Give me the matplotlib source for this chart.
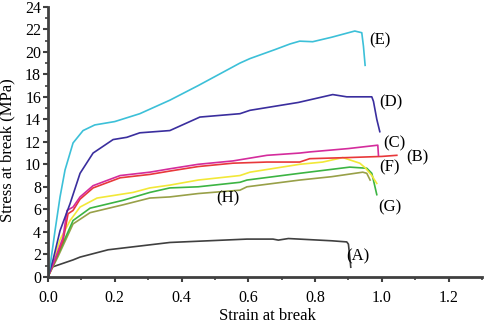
import matplotlib
matplotlib.use("Agg")
import matplotlib.pyplot as plt
from matplotlib.ticker import MultipleLocator, FormatStrFormatter

plt.rcParams['font.family'] = ['Liberation Serif', 'DejaVu Serif']

# Curve data (strain, stress in MPa)
A_x = [0, 0.006, 0.075, 0.096, 0.18, 0.365, 0.596, 0.674, 0.69, 0.72, 0.85, 0.895, 0.9, 0.905, 0.907]
A_y = [0, 0.8, 1.5, 1.75, 2.4, 3.05, 3.35, 3.35, 3.26, 3.4, 3.2, 3.1, 2.9, 1.5, 0.85]

B_x = [0, 0.02, 0.045, 0.06, 0.075, 0.096, 0.135, 0.216, 0.305, 0.365, 0.45, 0.554, 0.656, 0.754, 0.784, 0.9, 1.0, 1.045]
B_y = [0, 1.4, 3.2, 5.6, 5.9, 6.9, 7.9, 8.8, 9.1, 9.4, 9.8, 10.1, 10.2, 10.2, 10.5, 10.6, 10.7, 10.8]

C_x = [0, 0.02, 0.045, 0.057, 0.075, 0.096, 0.135, 0.216, 0.305, 0.365, 0.45, 0.554, 0.656, 0.754, 0.784, 0.9, 0.988, 0.99]
C_y = [0, 1.5, 3.5, 5.9, 6.2, 7.1, 8.1, 9.0, 9.3, 9.6, 10.0, 10.3, 10.8, 11.0, 11.1, 11.4, 11.7, 10.8]

D_x = [0, 0.015, 0.036, 0.066, 0.096, 0.135, 0.195, 0.236, 0.275, 0.365, 0.455, 0.575, 0.605, 0.75, 0.853, 0.895, 0.97, 0.975, 0.985, 0.994]
D_y = [0, 1.5, 4.1, 6.5, 9.2, 11.0, 12.2, 12.4, 12.8, 13.0, 14.2, 14.5, 14.8, 15.5, 16.2, 16.0, 16.0, 15.6, 14.0, 12.9]

E_x = [0, 0.006, 0.021, 0.036, 0.051, 0.075, 0.105, 0.14, 0.2, 0.275, 0.365, 0.45, 0.575, 0.605, 0.68, 0.725, 0.754, 0.793, 0.85, 0.919, 0.94, 0.945, 0.95]
E_y = [0, 0.9, 4.1, 7.1, 9.5, 11.9, 13.0, 13.5, 13.8, 14.5, 15.7, 17.0, 19.0, 19.4, 20.2, 20.7, 20.95, 20.9, 21.3, 21.85, 21.7, 20.5, 18.8]

F_x = [0, 0.02, 0.036, 0.066, 0.096, 0.147, 0.255, 0.305, 0.365, 0.45, 0.575, 0.605, 0.754, 0.823, 0.883, 0.934, 0.95, 0.97, 0.985]
F_y = [0, 1.8, 3.3, 5.0, 6.2, 7.0, 7.5, 7.9, 8.15, 8.6, 9.0, 9.3, 10.0, 10.2, 10.6, 10.1, 9.7, 9.0, 8.3]

G_x = [0, 0.03, 0.075, 0.126, 0.225, 0.305, 0.365, 0.45, 0.575, 0.596, 0.754, 0.904, 0.955, 0.97, 0.978, 0.985]
G_y = [0, 2.0, 5.0, 6.1, 6.8, 7.5, 7.9, 8.0, 8.4, 8.6, 9.2, 9.75, 9.65, 9.2, 8.2, 7.3]

H_x = [0, 0.03, 0.075, 0.126, 0.225, 0.305, 0.365, 0.45, 0.575, 0.596, 0.754, 0.85, 0.943, 0.955, 0.965]
H_y = [0, 1.8, 4.7, 5.7, 6.4, 7.0, 7.1, 7.4, 7.7, 8.0, 8.6, 8.9, 9.3, 9.2, 8.6]

labels = ['(A)', '(B)', '(C)', '(D)', '(E)', '(F)', '(G)', '(H)']
label_x = [0.892, 1.072, 1.003, 0.991, 0.961, 0.991, 0.988, 0.503]
label_y = [1.8, 10.6, 11.9, 15.5, 21.0, 9.75, 6.2, 7.0]

fig = plt.figure(figsize=(4.87, 3.26), dpi=100)
ax = fig.add_axes([0.0986, 0.151, 0.891, 0.828])

lw = 1.2
ax.plot(A_x, A_y, color='#404040', lw=lw)
ax.plot(H_x, H_y, color='#98A048', lw=lw)
ax.plot(G_x, G_y, color='#3CB443', lw=lw)
ax.plot(F_x, F_y, color='#F2E838', lw=lw)
ax.plot(B_x, B_y, color='#E8383A', lw=lw)
ax.plot(C_x, C_y, color='#D42C9C', lw=lw)
ax.plot(D_x, D_y, color='#3A2E9E', lw=lw)
ax.plot(E_x, E_y, color='#3CC0D8', lw=lw)

for t, x, y in zip(labels, label_x, label_y):
    ax.text(x, y, t, fontsize=12, ha='left', va='center')

ax.set_xlim(0, 1.3)
ax.set_ylim(0, 24)
ax.xaxis.set_major_locator(MultipleLocator(0.2))
ax.xaxis.set_minor_locator(MultipleLocator(0.1))
ax.yaxis.set_major_locator(MultipleLocator(2))
ax.yaxis.set_minor_locator(MultipleLocator(1))
ax.xaxis.set_major_formatter(FormatStrFormatter('%.1f'))

for s in ['top', 'right']:
    ax.spines[s].set_visible(False)
for s in ['left', 'bottom']:
    ax.spines[s].set_linewidth(2)
    ax.spines[s].set_color('#404040')

ax.tick_params(axis='both', which='major', direction='out', length=3.5, width=1.5,
               color='#404040', labelsize=11.5)
ax.tick_params(axis='both', which='minor', direction='out', length=2, width=1.2,
               color='#404040')
ax.tick_params(axis='x', which='major', pad=6)
ax.tick_params(axis='y', which='major', pad=1.5)

ax.set_xlabel('Strain at break', fontsize=12)
ax.xaxis.set_label_coords(0.506, -0.116)
ax.set_ylabel('Stress at break (MPa)', fontsize=12)
ax.yaxis.set_label_coords(-0.075, 0.47)

fig.savefig('out.png', dpi=100)
